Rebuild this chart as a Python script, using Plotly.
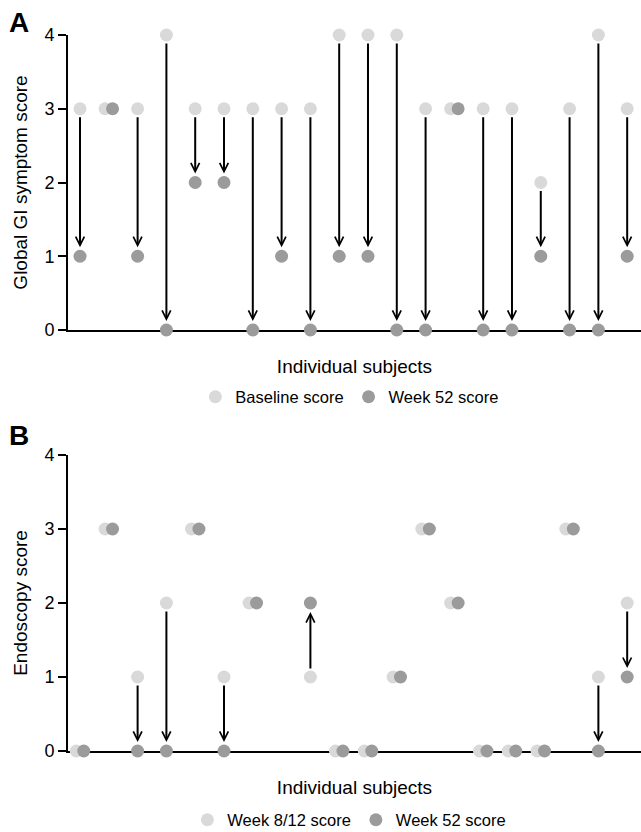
import plotly.graph_objects as go
from plotly.subplots import make_subplots

# ---------------- data ----------------
subjects = list(range(1, 21))

gi_baseline = [3, 3, 3, 4, 3, 3, 3, 3, 3, 4, 4, 4, 3, 3, 3, 3, 2, 3, 4, 3]
gi_week52 = [1, 3, 1, 0, 2, 2, 0, 1, 0, 1, 1, 0, 0, 3, 0, 0, 1, 0, 0, 1]

endo_week8_12 = [0, 3, 1, 2, 3, 1, 2, None, 1, 0, 0, 1, 3, 2, 0, 0, 0, 3, 1, 2]
endo_week52 = [0, 3, 0, 0, 3, 0, 2, None, 2, 0, 0, 1, 3, 2, 0, 0, 0, 3, 0, 1]

y_ticks = [0, 1, 2, 3, 4]

# ---------------- style ----------------
FONT = "Liberation Sans, Arial, sans-serif"
LIGHT = "#d9d9d9"
DARK = "#9b9b9b"
PAIR_SHIFT = 0.13  # side-by-side display when the two scores are equal

fig = make_subplots(rows=2, cols=1, vertical_spacing=0.0)


def positions(before, after):
    xb, xa = [], []
    for s, b, a in zip(subjects, before, after):
        if b is not None and a is not None and b == a:
            xb.append(s - PAIR_SHIFT)
            xa.append(s + PAIR_SHIFT)
        else:
            xb.append(s)
            xa.append(s)
    return xb, xa


panels = [
    (1, gi_baseline, gi_week52, "Baseline score", "Week 52 score", "legend", "x", "y"),
    (2, endo_week8_12, endo_week52, "Week 8/12 score", "Week 52 score", "legend2", "x2", "y2"),
]

for row, before, after, name_b, name_a, leg, xr, yr in panels:
    xb, xa = positions(before, after)
    fig.add_trace(go.Scatter(
        x=xb, y=before, mode="markers", name=name_b, legend=leg,
        marker=dict(size=13, color=LIGHT, line=dict(width=0)),
        cliponaxis=False, showlegend=True), row=row, col=1)
    fig.add_trace(go.Scatter(
        x=xa, y=after, mode="markers", name=name_a, legend=leg,
        marker=dict(size=13, color=DARK, line=dict(width=0)),
        cliponaxis=False, showlegend=True), row=row, col=1)
    for s, b, a in zip(subjects, before, after):
        if b is None or a is None or b == a:
            continue
        fig.add_annotation(
            x=s, y=a, ax=s, ay=b, xref=xr, yref=yr, axref=xr, ayref=yr,
            showarrow=True, arrowhead=5, arrowsize=0.85, arrowwidth=2,
            arrowcolor="black", standoff=9, startstandoff=7, text="")

# axes
for row, title in [(1, "Global GI symptom score"), (2, "Endoscopy score")]:
    fig.update_yaxes(
        row=row, col=1, range=[0, 4], tickvals=y_ticks, ticks="outside",
        ticklen=8, tickwidth=2, tickcolor="black", showline=True,
        linecolor="black", linewidth=2, showgrid=False, zeroline=False,
        tickfont=dict(family=FONT, size=18, color="black"),
        title=dict(text=title, font=dict(family=FONT, size=19, color="black"), standoff=12),
        automargin=False, layer="below traces")
    fig.update_xaxes(
        row=row, col=1, range=[0.583, 20.48], showticklabels=False, ticks="",
        showline=True, linecolor="black", linewidth=2, showgrid=False,
        zeroline=False,
        title=dict(text="Individual subjects", font=dict(family=FONT, size=19, color="black"), standoff=29),
        automargin=False, layer="below traces")

fig.update_layout(
    xaxis=dict(domain=[0, 1]),
    yaxis=dict(domain=[0.588, 1.0]),
    xaxis2=dict(domain=[0, 1]),
    yaxis2=dict(domain=[0.0, 0.4134]),
)

legend_style = dict(orientation="h", xanchor="center", yanchor="middle",
                    xref="container", yref="container",
                    font=dict(family=FONT, size=16.5, color="black"),
                    bgcolor="rgba(0,0,0,0)", itemwidth=30)
fig.update_layout(
    legend=dict(x=0.545, y=0.5228, **legend_style),
    legend2=dict(x=0.545, y=0.0144, **legend_style),
)

# panel letters
for letter, yp in [("A", 1.018), ("B", 0.441)]:
    fig.add_annotation(text="<b>%s</b>" % letter, xref="paper", yref="paper",
                       x=-0.0855, y=yp, xanchor="center", yanchor="middle",
                       showarrow=False, font=dict(family=FONT, size=28, color="black"))

fig.update_layout(
    width=641, height=832,
    margin=dict(l=68, r=0, t=35, b=81, autoexpand=False),
    paper_bgcolor="white", plot_bgcolor="white",
    font=dict(family=FONT, color="black"),
)

fig.write_html(
    "out.html",
    config={"displayModeBar": False},
    post_script="document.body.style.margin='0';document.body.style.padding='0';"
                "document.body.style.overflow='hidden';",
)
